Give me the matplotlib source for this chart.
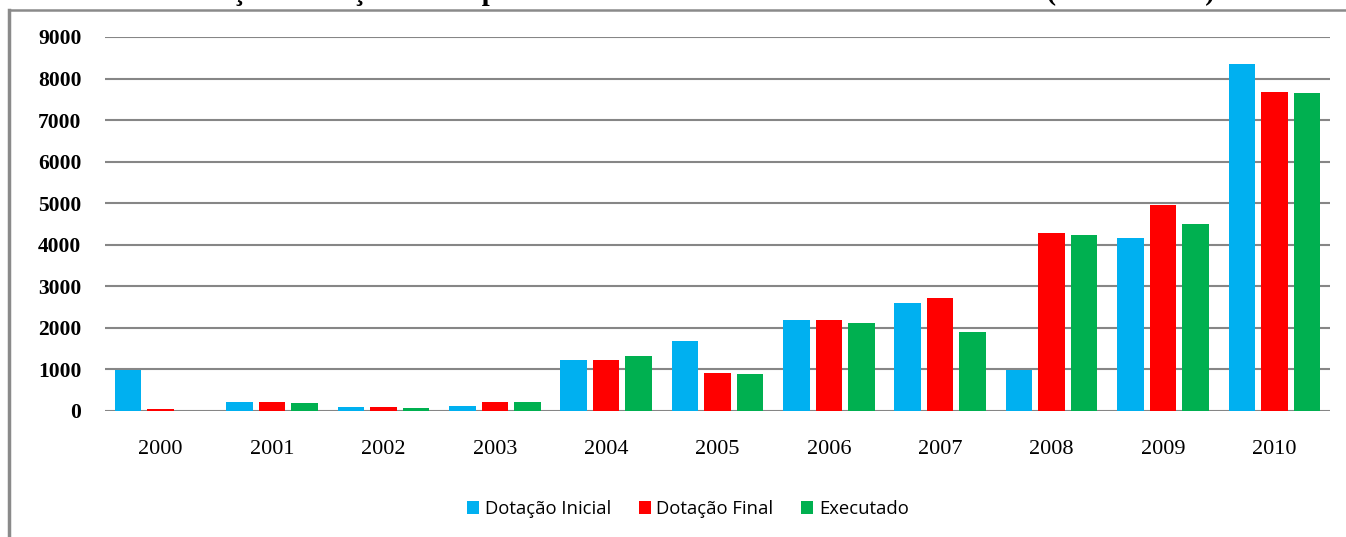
import numpy as np
import matplotlib
matplotlib.use("Agg")
import matplotlib.pyplot as plt
from matplotlib.lines import Line2D

# values
anos = ["2000", "2001", "2002", "2003", "2004", "2005", "2006", "2007", "2008", "2009", "2010"]
dotacao_inicial = [984, 220, 98, 129, 1218, 1677, 2185, 2597, 976, 4160, 8345]
dotacao_final = [49, 220, 98, 226, 1218, 903, 2185, 2718, 4289, 4962, 7671]
executado = [0, 195, 73, 226, 1315, 879, 2113, 1895, 4232, 4505, 7647]

series = [
    ("Dotação Inicial", dotacao_inicial, "#00B0F0"),
    ("Dotação Final", dotacao_final, "#FF0000"),
    ("Executado", executado, "#00B050"),
]

W, H = 1346, 537
fig = plt.figure(figsize=(W / 100, H / 100), dpi=100)
ax = fig.add_axes([105 / W, 1 - 411 / H, (1330 - 105) / W, (411 - 37) / H])

x = np.arange(len(anos))
step = 0.292
width = 0.238
for i, (nome, vals, cor) in enumerate(series):
    ax.bar(x + (i - 1) * step, vals, width=width, color=cor, label=nome, zorder=3)

ax.set_xlim(-0.5, len(anos) - 0.5)
ax.set_ylim(0, 9000)
ax.set_yticks(range(0, 9001, 1000))
ax.set_xticks(x)
ax.set_xticklabels(anos, fontfamily="Liberation Serif", fontsize=16)
for lbl in ax.get_yticklabels():
    lbl.set_fontfamily("Liberation Serif")
    lbl.set_fontweight("bold")
    lbl.set_fontsize(15.5)

ax.grid(axis="y", color="#868686", linewidth=1.5, zorder=0)
for s in ["top", "right", "left", "bottom"]:
    ax.spines[s].set_visible(False)
ax.tick_params(axis="y", length=0, pad=17)
ax.tick_params(axis="x", length=0, pad=21)

leg = fig.legend(loc="center", bbox_to_anchor=(688 / W, 1 - 509 / H), ncol=3, frameon=False,
                 prop={"family": "Open Sans", "size": 13.3},
                 handlelength=0.65, handleheight=0.65, handletextpad=0.3, columnspacing=1.5)

# outer frame of the chart area (grey, cut off on the right and bottom)
fig.add_artist(Line2D([9 / W, 1], [1 - 10 / H, 1 - 10 / H], transform=fig.transFigure,
                      color="#8a8a8a", linewidth=1.8))
fig.add_artist(Line2D([9 / W, 9 / W], [0, 1 - 10 / H], transform=fig.transFigure,
                      color="#8a8a8a", linewidth=2.5))

# title, cut off by the top edge of the image as in the source
fig.text(18 / W, 1 + 0.5 / H,
         "Gráfico 4 – Evolução do Orçamento Aprovado e Executado – Atividades Finalísticas (em milhares)",
         fontfamily="Liberation Serif", fontweight="bold", fontsize=20.5, va="baseline", ha="left")

fig.savefig("out.png", dpi=100)
